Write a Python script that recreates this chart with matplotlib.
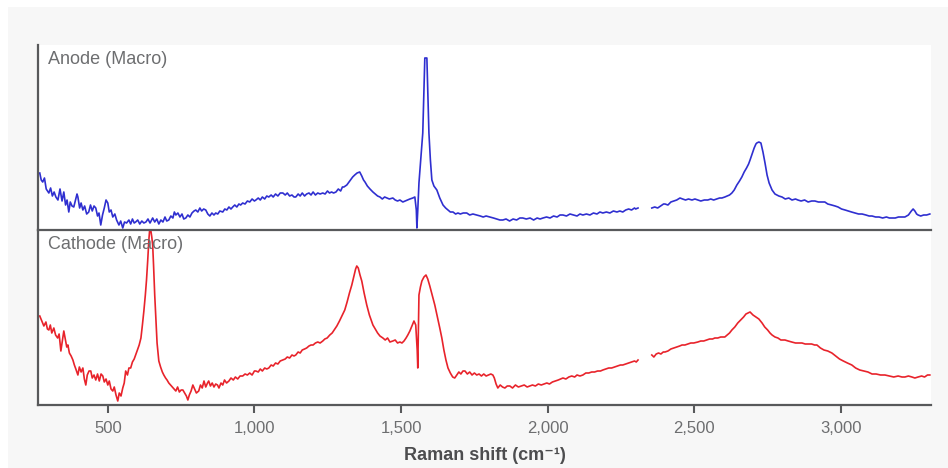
import numpy as np
import matplotlib.pyplot as plt
from matplotlib.patches import Rectangle

# Raman spectra (x = Raman shift in cm-1, y = relative counts)
anode_part1 = [
    (268, 57), (273, 50), (278, 48), (284, 52), (290, 41), (299, 37), (305, 42), (311, 34),
    (317, 38), (323, 33), (330, 30), (337, 41), (344, 29), (350, 38), (356, 25), (361, 30),
    (367, 18), (372, 28), (378, 24), (384, 23), (390, 30), (395, 36), (398, 33), (404, 22),
    (409, 27), (415, 20), (421, 24), (428, 16), (435, 18), (441, 25), (447, 19), (453, 24),
    (459, 22), (465, 14), (470, 17), (476, 5), (482, 15), (488, 22), (494, 30), (500, 27),
    (505, 18), (511, 20), (517, 13), (524, 16), (530, 10), (538, 5), (544, 9), (551, 2),
    (557, 8), (564, 7), (572, 10), (578, 6), (584, 11), (590, 7), (595, 8), (602, 10),
    (609, 6), (616, 9), (623, 7), (630, 8), (637, 11), (644, 7), (653, 12), (660, 8),
    (667, 11), (674, 6), (681, 10), (688, 8), (695, 13), (701, 9), (708, 10), (715, 14),
    (722, 12), (727, 18), (732, 15), (739, 17), (746, 13), (753, 16), (759, 11), (766, 12),
    (773, 15), (780, 13), (787, 17), (794, 19), (800, 20), (807, 18), (814, 22), (820, 19),
    (827, 21), (834, 20), (841, 16), (848, 14), (855, 17), (862, 15), (868, 17), (875, 16),
    (882, 19), (892, 18), (899, 21), (906, 20), (913, 23), (920, 21), (926, 23), (933, 25),
    (940, 23), (947, 26), (953, 25), (960, 27), (968, 26), (976, 29), (984, 28), (992, 31),
    (1000, 29), (1005, 30), (1013, 32), (1020, 30), (1027, 33), (1035, 31), (1042, 34),
    (1049, 33), (1057, 35), (1064, 33), (1072, 36), (1080, 34), (1088, 37), (1097, 37),
    (1105, 35), (1112, 37), (1120, 34), (1128, 35), (1135, 33), (1141, 33), (1149, 36),
    (1156, 34), (1163, 37), (1171, 34), (1178, 36), (1186, 37), (1193, 35), (1200, 38),
    (1208, 35), (1216, 37), (1224, 36), (1233, 37), (1241, 36), (1249, 39), (1256, 37),
    (1263, 38), (1270, 37), (1278, 38), (1286, 41), (1294, 39), (1300, 43), (1305, 43),
    (1315, 45), (1325, 49), (1335, 53), (1342, 55), (1350, 57), (1359, 58), (1366, 54),
    (1372, 50), (1377, 48), (1385, 44), (1394, 41), (1404, 38), (1412, 36), (1420, 34),
    (1428, 33), (1436, 31), (1444, 33), (1452, 32), (1460, 31), (1472, 32), (1480, 30),
    (1488, 29), (1496, 30), (1506, 28), (1514, 29), (1522, 30), (1530, 31), (1540, 32),
    (1547, 33), (1552, 20), (1554, 2), (1557, 20), (1561, 47), (1567, 70), (1574, 97),
    (1578, 140), (1581, 172), (1588, 172), (1591, 140), (1595, 97), (1600, 70), (1605, 50),
    (1612, 44), (1622, 40), (1632, 32), (1643, 25), (1652, 22), (1660, 20), (1668, 18),
    (1677, 18), (1686, 16), (1694, 17), (1702, 16), (1712, 17), (1724, 17), (1734, 15),
    (1745, 16), (1758, 15), (1770, 14), (1780, 13), (1790, 14), (1803, 13), (1815, 12),
    (1826, 11), (1837, 10), (1847, 10), (1858, 11), (1870, 9), (1882, 11), (1894, 10),
    (1905, 12), (1915, 12), (1927, 11), (1940, 12), (1952, 10), (1964, 12), (1974, 11),
    (1984, 12), (1996, 13), (2008, 12), (2020, 14), (2032, 13), (2042, 15), (2052, 15),
    (2064, 14), (2076, 16), (2088, 15), (2100, 14), (2110, 16), (2120, 15), (2132, 16),
    (2144, 15), (2156, 17), (2168, 16), (2178, 18), (2188, 17), (2200, 18), (2212, 17),
    (2224, 19), (2236, 18), (2246, 19), (2256, 18), (2266, 20), (2276, 21), (2286, 20),
    (2296, 22), (2300, 21), (2308, 22),
]
anode_part2 = [
    (2355, 22), (2365, 23), (2375, 22), (2385, 24), (2395, 26), (2400, 26), (2410, 25),
    (2420, 28), (2430, 29), (2440, 30), (2451, 32), (2460, 31), (2470, 30), (2480, 31),
    (2492, 30), (2502, 31), (2512, 30), (2522, 29), (2534, 30), (2546, 30), (2556, 31),
    (2566, 30), (2576, 31), (2586, 32), (2594, 32), (2604, 33), (2612, 34), (2620, 35),
    (2628, 37), (2636, 40), (2645, 45), (2654, 49), (2662, 53), (2670, 58), (2678, 62),
    (2685, 66), (2690, 70), (2697, 76), (2704, 82), (2710, 86), (2713, 87), (2720, 88),
    (2727, 87), (2734, 78), (2741, 67), (2748, 55), (2755, 47), (2765, 40), (2775, 36),
    (2788, 34), (2799, 33), (2810, 31), (2822, 32), (2833, 30), (2845, 31), (2853, 30),
    (2864, 29), (2876, 30), (2888, 28), (2900, 29), (2911, 29), (2923, 28), (2935, 28),
    (2945, 28), (2955, 26), (2968, 25), (2980, 24), (2990, 23), (3002, 21), (3014, 20),
    (3025, 19), (3036, 18), (3048, 17), (3060, 16), (3072, 16), (3085, 15), (3096, 14),
    (3106, 14), (3118, 13), (3130, 13), (3142, 12), (3155, 13), (3165, 12), (3174, 12),
    (3185, 12), (3196, 13), (3206, 13), (3218, 13), (3230, 15), (3240, 19), (3246, 21),
    (3252, 19), (3258, 16), (3263, 15), (3272, 14), (3282, 15), (3292, 15), (3303, 16),
]

cathode_part1 = [
    (268, 89), (275, 84), (282, 79), (289, 83), (294, 76), (299, 75), (304, 80), (309, 72),
    (316, 77), (322, 70), (329, 67), (334, 71), (340, 54), (345, 64), (350, 74), (355, 66),
    (360, 58), (364, 60), (369, 52), (375, 49), (381, 45), (386, 40), (391, 36), (398, 30),
    (403, 38), (409, 33), (415, 37), (420, 26), (425, 20), (430, 30), (436, 34), (442, 34),
    (447, 27), (453, 30), (459, 25), (465, 31), (471, 24), (477, 31), (483, 29), (488, 23),
    (494, 26), (500, 20), (505, 24), (511, 16), (517, 14), (522, 18), (528, 10), (534, 4),
    (539, 12), (545, 9), (551, 17), (556, 22), (561, 34), (567, 30), (572, 37), (578, 37),
    (584, 43), (590, 46), (595, 50), (601, 55), (607, 60), (613, 67), (618, 80), (623, 94),
    (628, 110), (632, 125), (636, 144), (640, 165), (643, 176), (647, 174), (650, 168),
    (653, 160), (656, 140), (660, 110), (664, 85), (668, 62), (674, 44), (680, 38), (686, 33),
    (691, 30), (697, 27), (702, 25), (708, 22), (714, 20), (720, 18), (726, 16), (732, 14),
    (738, 18), (744, 13), (750, 15), (756, 15), (762, 12), (768, 9), (773, 5), (778, 10),
    (784, 14), (790, 20), (796, 16), (802, 12), (810, 14), (816, 20), (822, 17), (828, 24),
    (834, 18), (840, 22), (844, 24), (850, 19), (856, 22), (862, 18), (868, 21), (874, 20),
    (879, 17), (886, 22), (892, 20), (898, 25), (905, 22), (913, 24), (920, 27), (928, 25),
    (935, 28), (943, 26), (951, 29), (960, 29), (968, 31), (976, 30), (984, 32), (992, 30),
    (1000, 34), (1005, 34), (1013, 33), (1020, 36), (1027, 34), (1035, 37), (1042, 36),
    (1049, 37), (1057, 40), (1064, 39), (1072, 42), (1080, 41), (1088, 44), (1097, 45),
    (1105, 46), (1112, 48), (1120, 47), (1128, 50), (1135, 49), (1141, 50), (1149, 53),
    (1156, 52), (1163, 55), (1171, 56), (1178, 57), (1186, 59), (1193, 60), (1200, 60),
    (1208, 62), (1216, 63), (1224, 62), (1233, 64), (1240, 66), (1248, 67), (1257, 70),
    (1265, 72), (1272, 75), (1281, 79), (1290, 84), (1298, 89), (1308, 95), (1316, 103),
    (1324, 112), (1332, 120), (1340, 130), (1345, 136), (1349, 139), (1354, 137), (1360, 130),
    (1366, 124), (1374, 112), (1383, 100), (1392, 90), (1404, 80), (1412, 76), (1420, 72),
    (1428, 69), (1438, 67), (1446, 65), (1454, 67), (1462, 63), (1472, 64), (1480, 65),
    (1488, 62), (1496, 63), (1503, 62), (1510, 64), (1517, 67), (1523, 70), (1530, 74),
    (1537, 79), (1544, 84), (1550, 80), (1555, 55), (1557, 37), (1559, 75), (1561, 110),
    (1566, 118), (1571, 124), (1578, 128), (1585, 130), (1591, 126), (1598, 119), (1606, 110),
    (1615, 100), (1624, 88), (1632, 77), (1639, 67), (1646, 55), (1653, 45), (1660, 37),
    (1668, 32), (1676, 28), (1683, 27), (1690, 30), (1697, 33), (1704, 31), (1711, 34),
    (1718, 34), (1726, 31), (1734, 33), (1742, 30), (1750, 32), (1758, 30), (1766, 31),
    (1774, 29), (1782, 31), (1790, 29), (1798, 30), (1806, 31), (1813, 30), (1818, 27),
    (1824, 21), (1830, 17), (1838, 20), (1846, 18), (1854, 17), (1862, 19), (1871, 19),
    (1880, 17), (1890, 20), (1900, 18), (1910, 19), (1920, 20), (1930, 18), (1939, 19),
    (1948, 20), (1958, 19), (1968, 21), (1978, 20), (1988, 21), (1997, 22), (2006, 21),
    (2016, 23), (2026, 24), (2036, 25), (2044, 26), (2052, 27), (2062, 26), (2072, 28),
    (2082, 29), (2092, 28), (2100, 30), (2110, 29), (2120, 30), (2130, 32), (2140, 32),
    (2150, 33), (2160, 33), (2170, 34), (2180, 34), (2188, 35), (2198, 36), (2208, 37),
    (2218, 37), (2228, 38), (2238, 39), (2248, 40), (2256, 40), (2266, 41), (2276, 42),
    (2286, 43), (2296, 44), (2302, 43), (2308, 45),
]
cathode_part2 = [
    (2355, 50), (2362, 48), (2370, 51), (2378, 52), (2386, 51), (2394, 53), (2400, 53),
    (2410, 54), (2420, 56), (2430, 57), (2440, 58), (2450, 59), (2458, 60), (2468, 60),
    (2478, 61), (2488, 62), (2498, 62), (2512, 63), (2522, 64), (2532, 64), (2542, 65),
    (2552, 66), (2562, 66), (2570, 67), (2580, 67), (2590, 68), (2598, 68), (2604, 68),
    (2612, 70), (2620, 72), (2628, 75), (2638, 78), (2648, 82), (2658, 85), (2668, 88),
    (2676, 91), (2683, 92), (2690, 93), (2700, 90), (2710, 88), (2720, 86), (2731, 82),
    (2740, 78), (2750, 75), (2758, 72), (2765, 70), (2775, 68), (2785, 67), (2795, 65),
    (2809, 65), (2820, 64), (2832, 63), (2845, 62), (2858, 62), (2867, 62), (2878, 61),
    (2890, 61), (2900, 61), (2910, 60), (2918, 60), (2930, 57), (2942, 55), (2955, 54),
    (2969, 52), (2982, 49), (2995, 46), (3008, 44), (3022, 42), (3037, 40), (3050, 37),
    (3064, 35), (3078, 34), (3092, 33), (3106, 31), (3120, 31), (3135, 30), (3150, 30),
    (3165, 29), (3180, 28), (3195, 29), (3208, 28), (3218, 28), (3230, 29), (3242, 28),
    (3252, 27), (3263, 28), (3275, 29), (3285, 28), (3295, 30), (3303, 30),
]

ticks = [500, 1000, 1500, 2000, 2500, 3000]
tick_labels = ["500", "1,000", "1,500", "2,000", "2,500", "3,000"]

spine_col = "#58595b"
text_col = "#6d6e70"
plt.rcParams["font.family"] = ["Liberation Sans", "DejaVu Sans"]

fig = plt.figure(figsize=(9.48, 4.68), dpi=100)
fig.patch.set_facecolor("white")
fig.add_artist(Rectangle((8 / 948, 0), 1, 1 - 7 / 468, transform=fig.transFigure,
                         facecolor="#f7f7f7", edgecolor="none", zorder=0))

left, width = 38 / 948, (931 - 38) / 948
ax_bot = fig.add_axes([left, 1 - 405 / 468, width, 175 / 468])
ax_top = fig.add_axes([left, 1 - 230 / 468, width, 185 / 468])
ax_top.set_zorder(2)

panels = [
    (ax_top, [anode_part1, anode_part2], "#2f2fd0", "Anode (Macro)", 185),
    (ax_bot, [cathode_part1, cathode_part2], "#e8232b", "Cathode (Macro)", 175),
]
for ax, parts, col, name, ytop in panels:
    ax.set_facecolor("white")
    for part in parts:
        xs, ys = np.array(part).T
        ax.plot(xs, ys, color=col, lw=1.2)
    ax.set_xlim(262, 3307)
    ax.set_ylim(0, ytop)
    ax.set_yticks([])
    for s in ["top", "right"]:
        ax.spines[s].set_visible(False)
    for s in ["left", "bottom"]:
        ax.spines[s].set_color(spine_col)
        ax.spines[s].set_linewidth(1.6)
    ax.text(0.011, 1 - 6 / ytop, name, transform=ax.transAxes, ha="left", va="top",
            fontsize=13, color=text_col)

ax_top.set_xticks([])
ax_bot.set_xticks(ticks)
ax_bot.set_xticklabels(tick_labels)
ax_bot.tick_params(axis="x", direction="out", length=5.5, width=1.5, color=spine_col,
                   labelsize=12, labelcolor=text_col, pad=6)
ax_bot.set_xlabel("Raman shift (cm⁻¹)", fontsize=13, fontweight="bold",
                  color="#4d4d4f", labelpad=8)

fig.savefig("out.png", dpi=100)
